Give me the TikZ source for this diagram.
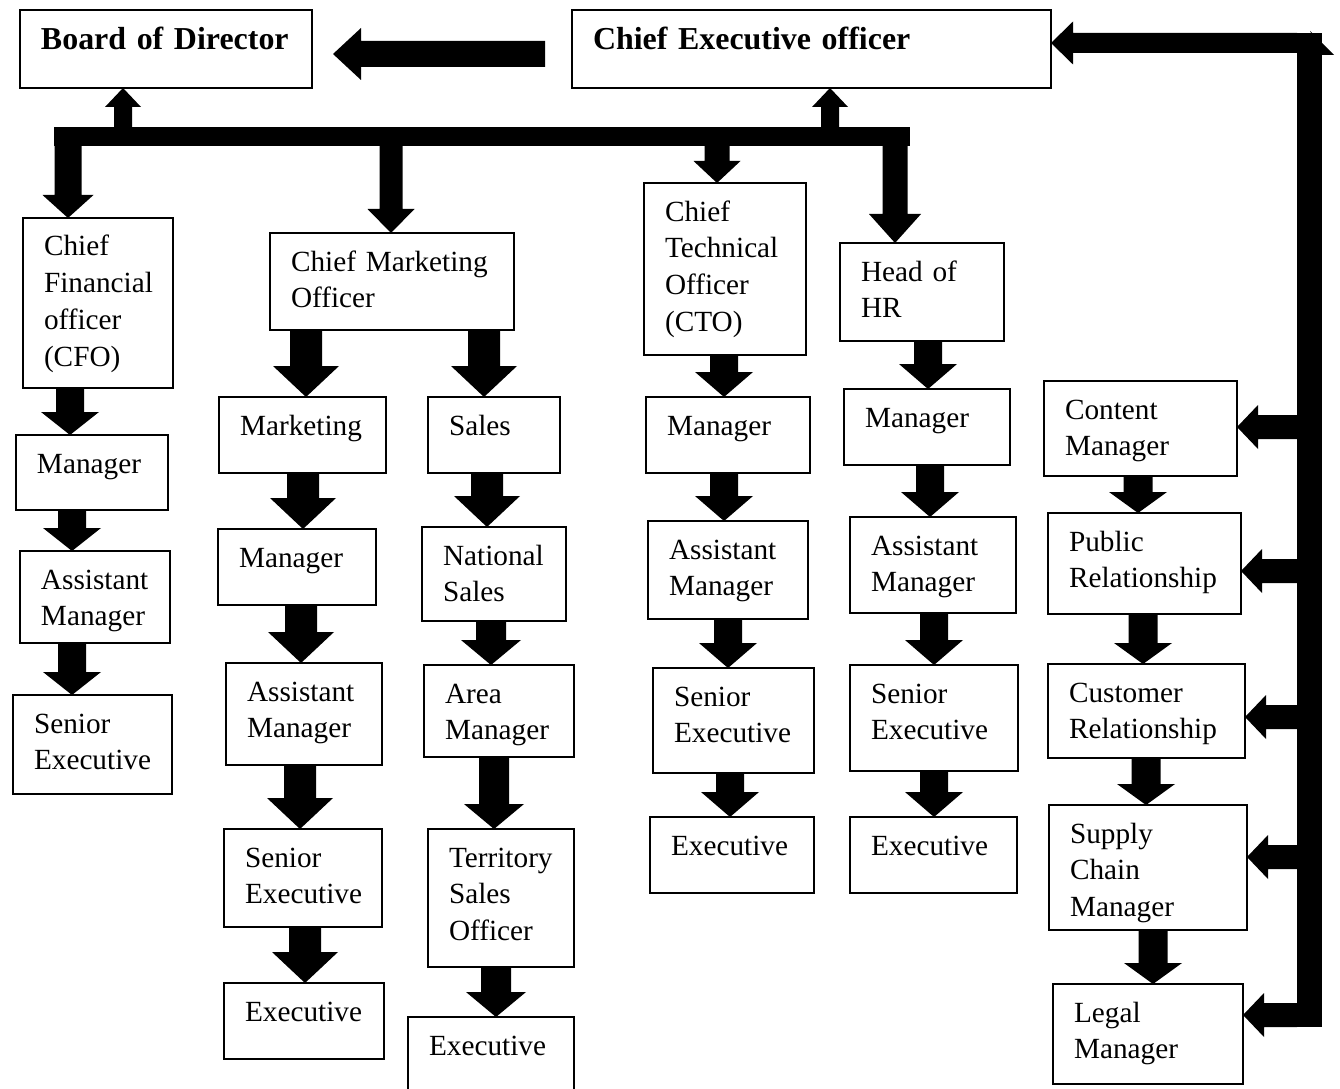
\documentclass[tikz,border=0pt]{standalone}
\usepackage{fontspec}
\setmainfont{Liberation Serif}
\usetikzlibrary{calc,positioning}

\newlength{\upx}
\setlength{\upx}{0.3759pt}

% size of the block arrows: shaft half width, head half width, head length
\newcommand{\arrowsize}[3]{\def\shaftw{#1}\def\headw{#2}\def\headl{#3}}
\arrowsize{14}{29}{25}

% block arrows drawn as filled outlines
\newcommand{\blockdown}[2]{%
  \fill ($(#1)+(-\shaftw,0)$) -- ($(#2)+(-\shaftw,-\headl)$) -- ($(#2)+(-\headw,-\headl)$) -- (#2)
    -- ($(#2)+(\headw,-\headl)$) -- ($(#2)+(\shaftw,-\headl)$) -- ($(#1)+(\shaftw,0)$) -- cycle;}
\newcommand{\blockup}[2]{%
  \fill ($(#1)+(-\shaftw,0)$) -- ($(#2)+(-\shaftw,\headl)$) -- ($(#2)+(-\headw,\headl)$) -- (#2)
    -- ($(#2)+(\headw,\headl)$) -- ($(#2)+(\shaftw,\headl)$) -- ($(#1)+(\shaftw,0)$) -- cycle;}
\newcommand{\blockleft}[2]{%
  \fill ($(#1)+(0,-\shaftw)$) -- ($(#2)+(\headl,-\shaftw)$) -- ($(#2)+(\headl,-\headw)$) -- (#2)
    -- ($(#2)+(\headl,\headw)$) -- ($(#2)+(\headl,\shaftw)$) -- ($(#1)+(0,\shaftw)$) -- cycle;}
\newcommand{\vlink}[3]{\blockdown{#1,0 |- #2.south}{#1,0 |- #3.north}}
\newcommand{\uplink}[3]{\blockup{#1,0 |- #2.north}{#1,0 |- #3.south}}
\newcommand{\hlink}[3]{\blockleft{#2.west |- 0,#1}{#3.east |- 0,#1}}

\tikzset{
	box/.style 2 args={draw, line width=0.5pt, anchor=north west, inner sep=0pt, outer sep=0pt,
		align=left, text width=#1*\upx, text height=38*\upx, text depth=(#2-38)*\upx,
		font=\fontsize{11}{13.8}\selectfont, execute at begin node={\leftskip=21\upx}},
	topbox/.style 2 args={box={#1}{#2}, text height=40*\upx, text depth=(#2-40)*\upx,
		font=\fontsize{12}{14}\selectfont\bfseries},
	bar/.style={fill, inner sep=0pt, outer sep=0pt, anchor=north west}
}

\begin{document}
\begin{tikzpicture}[x=0.3759pt, y=-0.3759pt]
                        \useasboundingbox (0,0) rectangle (1340,1088);
                        \node (board) [topbox={292}{78}] at (20,10) {Board of Director};
                        \node (ceo) [topbox={479}{78}] at (572,10) {Chief Executive officer};
                        \node (hbar) [bar, minimum width=856\upx, minimum height=19\upx] at (54,127) {};
                        \node (vbar) [bar, minimum width=25\upx, minimum height=994\upx] at (1297,33) {};
                        % finance
                        \node (cfo) [box={150}{170}] at (23,218) {Chief\\Financial\\officer\\(CFO)};
                        \node (cfomgr) [box={152}{75}] at (16,435) {Manager};
                        \node (cfoasst) [box={150}{92}] at (20,551) {Assistant\\Manager};
                        \node (cfosen) [box={159}{99}] at (13,695) {Senior\\Executive};
                        % marketing and sales
                        \node (cmo) [box={244}{97}] at (270,233) {Chief Marketing\\Officer};
                        \node (mkt) [box={167}{76}] at (219,397) {Marketing};
                        \node (sales) [box={132}{76}] at (428,397) {Sales};
                        \node (mktmgr) [box={158}{76}] at (218,529) {Manager};
                        \node (mktasst) [box={156}{102}] at (226,663) {Assistant\\Manager};
                        \node (mktsen) [box={158}{98}] at (224,829) {Senior\\Executive};
                        \node (mktexe) [box={160}{76}] at (224,983) {Executive};
                        \node (natsales) [box={144}{94}] at (422,527) {National\\Sales};
                        \node (areamgr) [box={150}{92}] at (424,665) {Area\\Manager};
                        \node (tso) [box={146}{138}] at (428,829) {Territory\\Sales\\Officer};
                        \node (salesexe) [box={166}{90}] at (408,1017) {Executive};
                        % technical
                        \node (cto) [box={162}{172}] at (644,183) {Chief\\Technical\\Officer\\(CTO)};
                        \node (ctomgr) [box={164}{76}] at (646,397) {Manager};
                        \node (ctoasst) [box={160}{98}] at (648,521) {Assistant\\Manager};
                        \node (ctosen) [box={161}{105}] at (653,668) {Senior\\Executive};
                        \node (ctoexe) [box={164}{76}] at (650,817) {Executive};
                        % human resources
                        \node (hr) [box={164}{98}] at (840,243) {Head of\\HR};
                        \node (hrmgr) [box={166}{76}] at (844,389) {Manager};
                        \node (hrasst) [box={166}{96}] at (850,517) {Assistant\\Manager};
                        \node (hrsen) [box={168}{106}] at (850,665) {Senior\\Executive};
                        \node (hrexe) [box={167}{76}] at (850,817) {Executive};
                        % right column
                        \node (content) [box={193}{95}] at (1044,381) {Content\\Manager};
                        \node (public) [box={193}{101}] at (1048,513) {Public\\Relationship};
                        \node (customer) [box={197}{94}] at (1048,664) {Customer\\Relationship};
                        \node (supply) [box={198}{125}] at (1049,805) {Supply\\Chain\\Manager};
                        \node (legal) [box={190}{100}] at (1053,984) {Legal\\Manager};

                        % top arrows
                        \coordinate (ceotail) at ($(ceo.west |- 0,54)+(-27,0)$);
                        \coordinate (boardtip) at ($(board.east |- 0,54)+(21,0)$);
                        \arrowsize{13}{26}{28}
                        \blockleft{ceotail}{boardtip}
                        \arrowsize{10}{21.5}{22}
                        \hlink{43}{vbar}{ceo}
                        \fill ($(vbar.north east)+(-12,-2)$) -- ($(vbar.north east)+(12,22)$) -- ($(vbar.north east)+(0,22)$) -- cycle;
                        \arrowsize{9}{18}{19}
                        \uplink{123}{hbar}{board}
                        \uplink{830}{hbar}{ceo}
                        \arrowsize{13.5}{25.5}{23}
                        \vlink{68}{hbar}{cfo}
                        \arrowsize{11.5}{23.5}{24}
                        \vlink{391}{hbar}{cmo}
                        \arrowsize{12.5}{23.5}{22}
                        \vlink{717}{hbar}{cto}
                        \arrowsize{12.5}{26}{29}
                        \vlink{895}{hbar}{hr}

                        % columns
                        \arrowsize{14}{29}{23}
                        \vlink{70}{cfo}{cfomgr}
                        \vlink{72}{cfomgr}{cfoasst}
                        \vlink{72}{cfoasst}{cfosen}
                        \arrowsize{16}{33}{31}
                        \vlink{306}{cmo}{mkt}
                        \vlink{484}{cmo}{sales}
                        \vlink{303}{mkt}{mktmgr}
                        \vlink{301}{mktmgr}{mktasst}
                        \vlink{300}{mktasst}{mktsen}
                        \vlink{305}{mktsen}{mktexe}
                        \vlink{487}{sales}{natsales}
                        \arrowsize{15}{30}{25}
                        \vlink{491}{natsales}{areamgr}
                        \vlink{494}{areamgr}{tso}
                        \vlink{496}{tso}{salesexe}
                        \arrowsize{14}{29}{25}
                        \vlink{724}{cto}{ctomgr}
                        \vlink{724}{ctomgr}{ctoasst}
                        \vlink{728}{ctoasst}{ctosen}
                        \vlink{730}{ctosen}{ctoexe}
                        \vlink{928}{hr}{hrmgr}
                        \vlink{930}{hrmgr}{hrasst}
                        \vlink{934}{hrasst}{hrsen}
                        \vlink{934}{hrsen}{hrexe}
                        \arrowsize{14.5}{29}{21}
                        \vlink{1138}{content}{public}
                        \vlink{1143}{public}{customer}
                        \vlink{1146}{customer}{supply}
                        \vlink{1153}{supply}{legal}

                        % side arrows from the right bar
                        \arrowsize{12}{22}{21}
                        \hlink{427}{vbar}{content}
                        \hlink{571}{vbar}{public}
                        \hlink{717}{vbar}{customer}
                        \hlink{857}{vbar}{supply}
                        \hlink{1015}{vbar}{legal}
                    \end{tikzpicture}
\end{document}
